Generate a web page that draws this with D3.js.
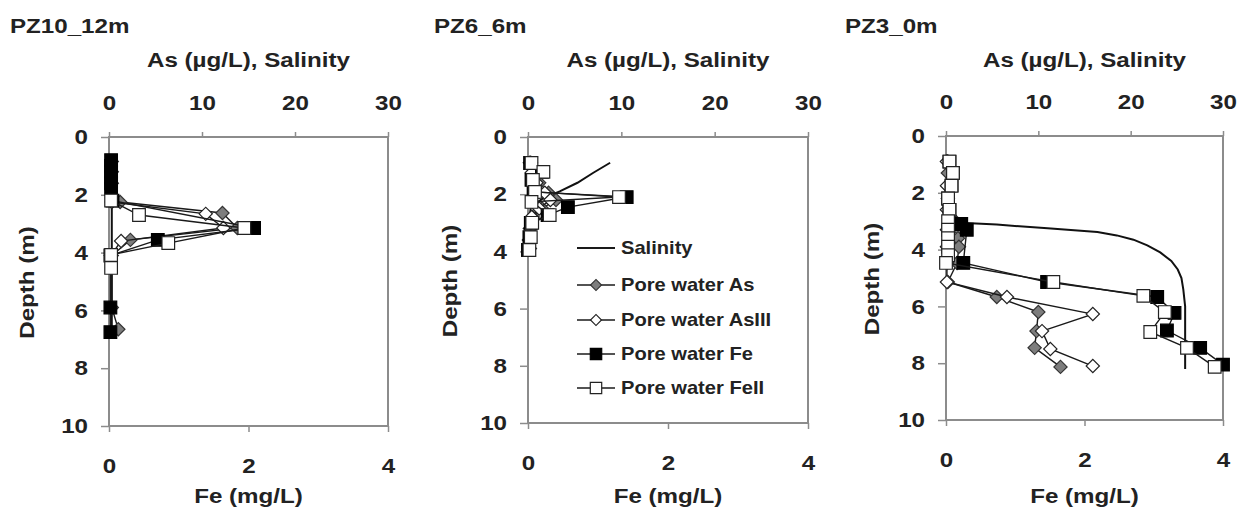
<!DOCTYPE html>
<html>
<head>
<meta charset="utf-8">
<script src="https://cdn.jsdelivr.net/npm/d3@7"></script>
<style>
  body { margin: 0; background: #fff; }
  text { font-family: "Liberation Sans", Arial, sans-serif; font-weight: bold; fill: #222; }
</style>
</head>
<body>
<svg width="1239" height="508"></svg>
<script>
// ---- data ----
const panelTitles = ["PZ10_12m", "PZ6_6m", "PZ3_0m"];
const depthTicks = [0, 2, 4, 6, 8, 10];
const asTicks = [0, 10, 20, 30];
const feTicks = [0, 2, 4];
const legendLabels = ["Salinity", "Pore water As", "Pore water AsIII", "Pore water Fe", "Pore water FeII"];

// PZ10_12m
const pz10SalDepth = [0.8, 2.2, 4.0, 5.0, 6.8];
const pz10Sal = [0.3, 0.3, 0.3, 0.3, 0.3];
const pz10AsDepth = [0.85, 1.2, 1.6, 2.25, 2.63, 3.15, 3.56, 4.1, 5.9, 6.65];
const pz10As = [0.3, 0.3, 0.3, 1.2, 12.2, 13.8, 2.3, 0.3, 0.3, 1.0];
const pz10AsIIIDepth = [2.25, 2.66, 3.15, 3.6, 4.1];
const pz10AsIII = [0.3, 10.4, 12.3, 1.3, 0.2];
const pz10FeDepth = [0.8, 1.0, 1.2, 1.4, 1.6, 1.8, 2.2, 3.15, 3.56, 4.1, 5.9, 6.75];
const pz10Fe = [0.03, 0.03, 0.03, 0.03, 0.03, 0.03, 0.05, 2.08, 0.70, 0.02, 0.02, 0.02];
const pz10FeIIDepth = [2.2, 2.7, 3.15, 3.67, 4.08, 4.53];
const pz10FeII = [0.03, 0.43, 1.94, 0.85, 0.03, 0.03];

// PZ6_6m
const pz6SalDepth = [0.9, 1.25, 1.6, 1.9, 2.15, 2.45, 3.0, 3.9];
const pz6Sal = [8.8, 7.0, 5.3, 3.4, 1.6, 0.3, 0.1, 0.1];
const pz6AsDepth = [0.9, 1.25, 1.6, 1.95, 2.2, 2.5, 2.8, 3.2, 3.6, 3.9];
const pz6As = [0.3, 0.5, 1.2, 2.2, 3.0, 1.5, 0.5, 0.3, 0.2, 0.2];
const pz6AsIIIDepth = [0.9, 1.25, 1.6, 1.95, 2.2, 2.5, 2.8, 3.2, 3.6, 3.9];
const pz6AsIII = [0.2, 0.4, 0.9, 1.8, 2.4, 1.2, 0.4, 0.2, 0.1, 0.1];
const pz6FeDepth = [0.91, 1.22, 1.5, 1.92, 2.1, 2.45, 2.73, 3.0, 3.5, 3.95];
const pz6Fe = [0.03, 0.2, 0.05, 0.08, 1.41, 0.57, 0.28, 0.04, 0.02, 0.0];
const pz6FeIIDepth = [0.91, 1.22, 1.5, 1.92, 2.1, 2.27, 2.73, 3.0, 3.5, 3.95];
const pz6FeII = [0.05, 0.22, 0.07, 0.1, 1.3, 0.05, 0.31, 0.06, 0.04, 0.02];

// PZ3_0m
const pz3SalDepth = [3.05, 3.12, 3.25, 3.38, 3.5, 3.65, 3.85, 4.1, 4.4, 4.7, 5.0, 5.4, 6.0, 7.0, 8.2];
const pz3Sal = [1.0, 5.5, 11.0, 16.4, 18.5, 20.3, 21.8, 23.2, 24.4, 25.1, 25.5, 25.7, 25.9, 25.9, 25.9];
const pz3AsDepth = [0.9, 1.3, 1.75, 2.2, 2.6, 3.0, 3.25, 3.6, 3.9, 4.47, 5.14, 5.67, 6.2, 6.87, 7.46, 8.13];
const pz3As = [0.2, 0.2, 0.2, 0.2, 0.2, 1.0, 1.3, 1.3, 1.4, 1.2, 0.2, 5.5, 10.0, 9.8, 9.6, 12.4];
const pz3AsIIIDepth = [0.9, 1.75, 2.6, 3.3, 3.9, 4.47, 5.14, 5.67, 6.27, 6.87, 7.5, 8.1];
const pz3AsIII = [0.1, 0.1, 0.1, 0.1, 0.1, 0.1, 0.1, 6.6, 15.9, 10.4, 11.3, 15.9];
const pz3FeDepth = [0.9, 1.3, 1.75, 2.2, 2.6, 3.1, 3.3, 4.47, 5.14, 5.67, 6.23, 6.85, 7.46, 8.05];
const pz3Fe = [0.05, 0.1, 0.08, 0.03, 0.05, 0.22, 0.3, 0.25, 1.46, 3.05, 3.3, 3.19, 3.67, 4.0];
const pz3FeIIDepth = [0.9, 1.3, 1.75, 2.2, 2.6, 3.0, 3.3, 3.6, 3.9, 4.2, 4.47, 5.14, 5.63, 6.2, 6.9, 7.46, 8.13];
const pz3FeII = [0.05, 0.1, 0.08, 0.03, 0.05, 0.03, 0.03, 0.03, 0.03, 0.03, 0.0, 1.55, 2.85, 3.16, 2.95, 3.48, 3.88];

const zip = (ds, vs) => ds.map((d, i) => ({ d: d, v: vs[i] }));

const panels = [
  { sal: zip(pz10SalDepth, pz10Sal), as: zip(pz10AsDepth, pz10As), asIII: zip(pz10AsIIIDepth, pz10AsIII),
    fe: zip(pz10FeDepth, pz10Fe), feII: zip(pz10FeIIDepth, pz10FeII) },
  { sal: zip(pz6SalDepth, pz6Sal), as: zip(pz6AsDepth, pz6As), asIII: zip(pz6AsIIIDepth, pz6AsIII),
    fe: zip(pz6FeDepth, pz6Fe), feII: zip(pz6FeIIDepth, pz6FeII) },
  { sal: zip(pz3SalDepth, pz3Sal), as: zip(pz3AsDepth, pz3As), asIII: zip(pz3AsIIIDepth, pz3AsIII),
    fe: zip(pz3FeDepth, pz3Fe), feII: zip(pz3FeIIDepth, pz3FeII) }
];

// ---- layout ----
const boxes = [
  { left: 109, right: 388, top: 137, bottom: 426, titleX: 10, depthX: 27 },
  { left: 528, right: 808, top: 137, bottom: 423, titleX: 434, depthX: 450 },
  { left: 946, right: 1223, top: 136, bottom: 420, titleX: 845, depthX: 872 }
];
const SX = 1.15; // the figure's lettering is wide
const frameColor = "#8c8c8c";

const svg = d3.select("svg");

function label(g, x, y, str, size, anchor, rot) {
  return g.append("text")
    .attr("transform", `translate(${x},${y})` + (rot ? ` rotate(${rot})` : "") + ` scale(${SX},1)`)
    .attr("text-anchor", anchor || "start")
    .style("font-size", size + "px")
    .text(str);
}

function styleAxis(g) {
  g.attr("font-size", null).attr("font-family", null);
  g.select(".domain").remove();
  g.selectAll(".tick line").attr("stroke", frameColor).attr("stroke-width", 1.5);
  g.selectAll(".tick text").each(function () {
    const t = d3.select(this);
    const x = +t.attr("x") || 0, y = +t.attr("y") || 0;
    t.attr("transform", `translate(${x},${y}) scale(${SX},1)`).attr("x", null).attr("y", null);
  }).attr("fill", "#222").style("font-size", "21px");
}

const diamond = d3.symbol().type(d3.symbolSquare).size(88)();
const square = d3.symbol().type(d3.symbolSquare).size(160)();

const markerStyle = {
  as: { path: diamond, rot: 45, fill: "#7d7d7d", stroke: "#333" },
  asIII: { path: diamond, rot: 45, fill: "#fff", stroke: "#222" },
  fe: { path: square, rot: 0, fill: "#000", stroke: "#000" },
  feII: { path: square, rot: 0, fill: "#fff", stroke: "#222" }
};

const fmt = d3.format("d");

panels.forEach((p, i) => {
  const b = boxes[i];
  const g = svg.append("g");
  const xAs = d3.scaleLinear().domain([0, 30]).range([b.left, b.right]);
  const xFe = d3.scaleLinear().domain([0, 4]).range([b.left, b.right]);
  const y = d3.scaleLinear().domain([0, 10]).range([b.top, b.bottom]);

  // titles
  label(g, b.titleX, 33, panelTitles[i], 21, "start");
  label(g, (b.left + b.right) / 2, 67, "As (\u00b5g/L), Salinity", 21, "middle");
  label(g, (b.left + b.right) / 2, 503, "Fe (mg/L)", 21, "middle");
  label(g, b.depthX + 7, (b.top + b.bottom) / 2 + 1, "Depth (m)", 21, "middle", -90);

  // axes
  g.append("g").attr("transform", `translate(0,${b.top})`)
    .call(d3.axisTop(xAs).tickValues(asTicks).tickFormat(fmt).tickSize(5).tickSizeOuter(0).tickPadding(22))
    .call(styleAxis);
  g.append("g").attr("transform", `translate(0,${b.bottom})`)
    .call(d3.axisBottom(xFe).tickValues(feTicks).tickFormat(fmt).tickSize(6).tickSizeOuter(0).tickPadding(26))
    .call(styleAxis);
  g.append("g").attr("transform", `translate(${b.left},0)`)
    .call(d3.axisLeft(y).tickValues(depthTicks).tickFormat(fmt).tickSize(8).tickSizeOuter(0).tickPadding(13))
    .call(styleAxis);

  g.append("rect")
    .attr("x", b.left).attr("y", b.top)
    .attr("width", b.right - b.left).attr("height", b.bottom - b.top)
    .attr("fill", "none").attr("stroke", frameColor).attr("stroke-width", 2);

  // salinity
  g.append("path").datum(p.sal)
    .attr("fill", "none").attr("stroke", "#111").attr("stroke-width", 2)
    .attr("d", d3.line().x(d => xAs(d.v)).y(d => y(d.d)));

  // pore water series
  [["as", xAs], ["asIII", xAs], ["fe", xFe], ["feII", xFe]].forEach(([key, xs]) => {
    const m = markerStyle[key];
    const s = g.append("g");
    s.append("path").datum(p[key])
      .attr("fill", "none").attr("stroke", "#1a1a1a").attr("stroke-width", 1.4)
      .attr("d", d3.line().x(d => xs(d.v)).y(d => y(d.d)));
    s.selectAll("path.mk").data(p[key]).join("path")
      .attr("class", "mk")
      .attr("d", m.path)
      .attr("transform", d => `translate(${xs(d.v)},${y(d.d)}) rotate(${m.rot})`)
      .attr("fill", m.fill).attr("stroke", m.stroke).attr("stroke-width", 1.2);
  });
});

// legend inside the middle panel
const legendY = [248, 285, 320, 354, 388];
const legendKeys = [null, "as", "asIII", "fe", "feII"];
const lg = svg.append("g");
legendLabels.forEach((name, i) => {
  const yy = legendY[i];
  lg.append("line").attr("x1", 577).attr("x2", 615).attr("y1", yy).attr("y2", yy)
    .attr("stroke", "#1a1a1a").attr("stroke-width", i === 0 ? 2 : 1.4);
  const key = legendKeys[i];
  if (key) {
    const m = markerStyle[key];
    lg.append("path").attr("d", key.startsWith("fe") ? d3.symbol().type(d3.symbolSquare).size(130)() : d3.symbol().type(d3.symbolSquare).size(60)())
      .attr("transform", `translate(596,${yy}) rotate(${m.rot})`)
      .attr("fill", m.fill).attr("stroke", m.stroke).attr("stroke-width", 1.2);
  }
  label(lg, 621, yy + 6, name, 17.5, "start");
});
</script>
</body>
</html>
